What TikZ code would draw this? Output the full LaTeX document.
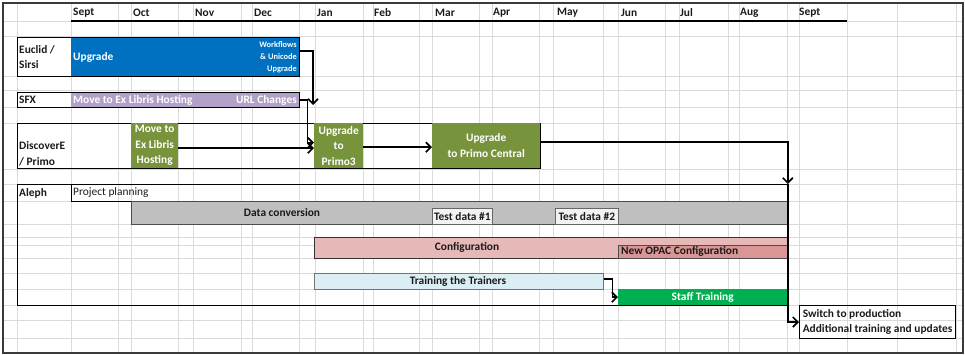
\documentclass[tikz,border=0pt]{standalone}
\usepackage{fontspec}
\setmainfont{Carlito}
\usetikzlibrary{arrows.meta}
\definecolor{gridc}{HTML}{DADADA}
\definecolor{eublue}{HTML}{0070C0}
\definecolor{sfxpurple}{HTML}{B1A0C7}
\definecolor{olive}{HTML}{77933C}
\definecolor{dcgray}{HTML}{BFBFBF}
\definecolor{tdgray}{HTML}{F2F2F2}
\definecolor{cfpink}{HTML}{E6B9B8}
\definecolor{oppink}{HTML}{DA9694}
\definecolor{ttblue}{HTML}{DAEEF3}
\definecolor{stgreen}{HTML}{00B050}
\definecolor{frame}{HTML}{3A3A3A}
\definecolor{txt}{HTML}{1A1A1A}
\begin{document}
\begin{tikzpicture}[x=1pt,y=-1pt,
  every node/.style={font=\fontsize{11.4}{15.5}\selectfont\bfseries, inner sep=0pt, text=txt},
  box/.style={anchor=north west, minimum width=#1},
  rowbox/.style={draw=black, line width=0.8pt, anchor=north west},
  lbl/.style={anchor=west, align=left},
  wtxt/.style={text=white},
  small/.style={font=\fontsize{8.4}{12}\selectfont\bfseries},
  arr/.style={line width=1.7pt, -{Straight Barb[length=5pt,width=10pt,line width=1.7pt]}},
]
\useasboundingbox (0,0) rectangle (965,355);
% grid
\foreach \x in {17,71,118,131,178,193,241,252,299,315,363,373,419,432,479,492,539,553,603,618,665,679,728,739,787,799,847,897,956}
  \draw[gridc, line width=0.7pt] (\x,4) -- (\x,352);
\foreach \y in {21,36,76,90,107,123,169,184,201,224,237,245,258,273,289,305,320,338}
  \draw[gridc, line width=0.7pt] (4,\y) -- (962,\y);
% outer frame
\draw[frame, line width=2.6pt] (3,3) rectangle (963,353);
% header
\draw[black, line width=1.5pt] (71,21) -- (847,21);
\foreach \x/\m in {73/Sept,133/Oct,195/Nov,254/Dec,317/Jan,374/Feb,435/Mar,493/Apr,557/May,621/Jun,680/Jul,740/Aug,799/Sept}
  \node[anchor=west] (m\x) at (\x,13) {\m};

% Euclid / Sirsi
\node[box=228, minimum height=39, fill=eublue] (eu) at (71,37) {};
\node[rowbox, minimum width=282, minimum height=39] (eurow) at (17,37) {};
\node[lbl] (eulbl) at (19,57) {Euclid /\\Sirsi};
\node[lbl, wtxt] (euup) at (73,57) {Upgrade};
\node[anchor=east, align=right, wtxt, small] (euwf) at (297,57) {Workflows\\\& Unicode\\Upgrade};

% SFX
\node[box=228, minimum height=15, fill=sfxpurple] (sf) at (71,92) {};
\node[rowbox, minimum width=282, minimum height=15] (sfrow) at (17,92) {};
\node[lbl] (sflbl) at (19,100) {SFX};
\node[lbl, wtxt] (sfmv) at (73,100) {Move to Ex Libris Hosting};
\node[anchor=east, wtxt] (sfurl) at (297,100) {URL Changes};

% DiscoverE / Primo
\node[rowbox, minimum width=523, minimum height=45] (dprow) at (17,123) {};
\node[lbl] (dplbl) at (19,154) {DiscoverE\\/ Primo};
\node[box=47, minimum height=45, fill=olive, align=center, wtxt] (mv) at (131,123) {Move to\\Ex Libris\\Hosting};
\node[box=49, minimum height=45, fill=olive, align=center, wtxt] (p3) at (314,123) {Upgrade\\to\\Primo3};
\node[box=108, minimum height=45, fill=olive, align=center, wtxt] (pc) at (432,123) {Upgrade\\to Primo Central};

% Aleph
\node[rowbox, minimum width=770, minimum height=121] (alrow) at (17,184) {};
\node[lbl] (allbl) at (19,193) {Aleph};
\node[rowbox, minimum width=716, minimum height=17] (pp) at (71,184) {};
\node[lbl, font=\fontsize{11.4}{13}\selectfont] (pptxt) at (73,193) {Project planning};
\node[box=656, minimum height=23, fill=dcgray, draw=black!70, line width=0.8pt] (dc) at (131,201) {};
\node (dctxt) at (282,213) {Data conversion};
\node[box=60, minimum height=16, fill=tdgray, draw=black!60, line width=0.6pt] (td1) at (432,208) {Test data \#1};
\node[box=63, minimum height=16, fill=tdgray, draw=black!60, line width=0.6pt] (td2) at (555,208) {Test data \#2};
\node[box=473, minimum height=21, fill=cfpink, draw=black!80, line width=0.8pt] (cf) at (314,237) {};
\node (cftxt) at (467,247) {Configuration};
\node[box=169, minimum height=13, fill=oppink, draw=black!70, line width=0.5pt] (op) at (618,245) {};
\node[lbl] (optxt) at (621,251.5) {New OPAC Configuration};
\node[box=289, minimum height=16, fill=ttblue, draw=black!55, line width=0.6pt] (tt) at (314,273) {};
\node (tttxt) at (458,281) {Training the Trainers};
\node[box=169, minimum height=16, fill=stgreen, wtxt] (st) at (618,289) {Staff Training};

% switch box
\node[rowbox, line width=1.1pt, minimum width=156, minimum height=33, align=left, inner xsep=3pt] (sw) at (799,305) {Switch to production\\Additional training and updates};

% connectors
\coordinate (eEnd) at (313,105);
\draw[arr] ([yshift=5.5pt]eu.east) -| (eEnd);
\draw[arr] (sf.east) -- ++(8,0) |- ([yshift=3pt]p3.west);
\draw[arr] ([yshift=-2.5pt]mv.east) -- ([yshift=-2.5pt]p3.west);
\draw[arr] ([yshift=-1.5pt]p3.east) -- ([yshift=-1.5pt]pc.west);
\draw[arr] ([yshift=3.5pt]pc.east) -| (pp.north east);
\draw[arr] (pp.north east) |- (sw.west);
\draw[arr] ([yshift=2pt]tt.east) -- ++(9,0) |- (st.west);
\end{tikzpicture}
\end{document}
